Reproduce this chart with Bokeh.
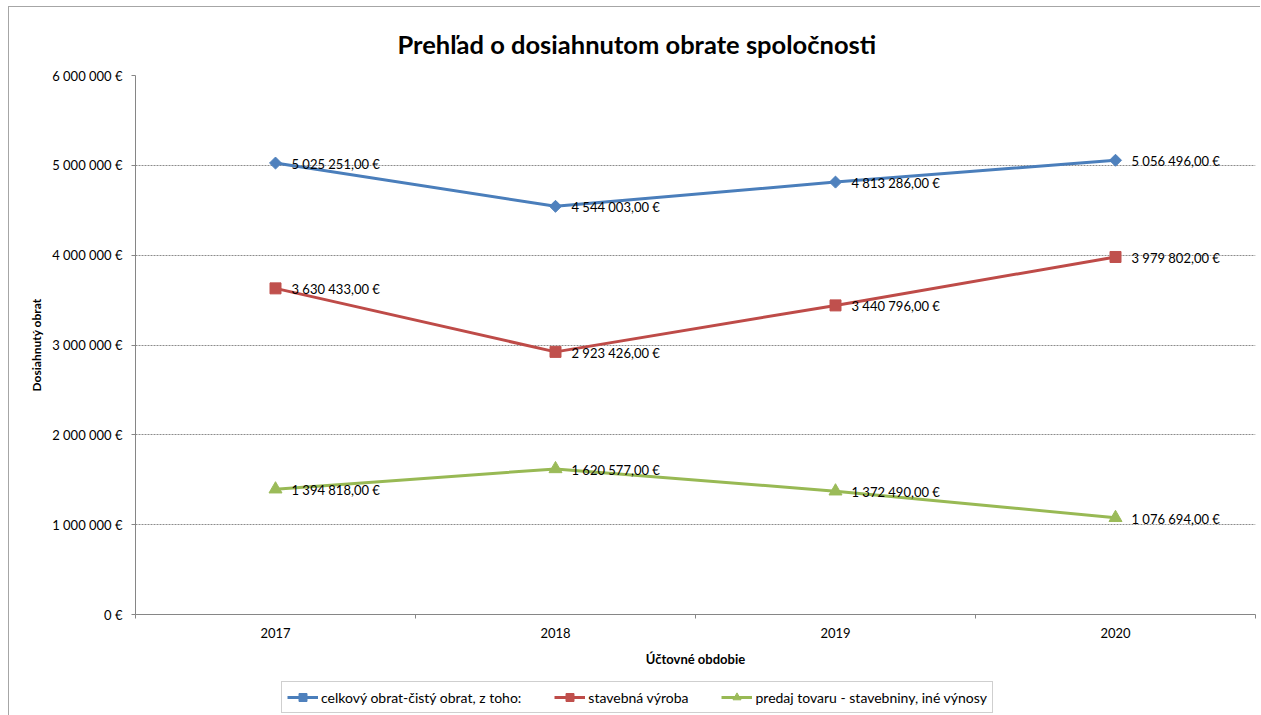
from bokeh.plotting import figure
from bokeh.layouts import column
from bokeh.models import FixedTicker, ColumnDataSource, Legend, LegendItem, LabelSet, Range1d
from bokeh.embed import file_html
from bokeh.resources import INLINE
from bokeh.core.properties import value

years = ["2017", "2018", "2019", "2020"]
celkovy = [5025251, 4544003, 4813286, 5056496]
stavebna = [3630433, 2923426, 3440796, 3979802]
predaj = [1394818, 1620577, 1372490, 1076694]
series_names = ["celkový obrat-čistý obrat, z toho:", "stavebná výroba",
                "predaj tovaru - stavebniny, iné výnosy"]
y_ticks = [0, 1000000, 2000000, 3000000, 4000000, 5000000, 6000000]
title_text = "Prehľad o dosiahnutom obrate spoločnosti"
x_label = "Účtovné obdobie"
y_label = "Dosiahnutý obrat"

FONT = "Lato"


def fmt_int(v):
    return f"{v:,}".replace(",", " ") + " €"


def fmt_val(v):
    return f"{v:,.2f}".replace(",", " ").replace(".", ",") + " €"


xs = list(range(1, len(years) + 1))

p = figure(width=1251, height=668, output_backend="svg", toolbar_location=None,
           x_range=Range1d(0.5, len(years) + 0.5), y_range=Range1d(0, 6000000),
           min_border_left=126, min_border_top=68, min_border_right=5, min_border_bottom=61)
p.outline_line_color = None
p.background_fill_color = "white"
p.border_fill_color = "white"

p.title.text = title_text
p.title.text_font = FONT
p.title.text_font_size = "25.5px"
p.title.text_font_style = "bold"
p.title.text_color = "black"
p.title.align = "left"
p.title.offset = 262
p.title.standoff = 34

# axes
xa = p.xaxis[0]
xa.ticker = FixedTicker(ticks=xs, minor_ticks=[x - 0.5 for x in xs] + [xs[-1] + 0.5])
xa.major_label_overrides = {x: y for x, y in zip(xs, years)}
xa.major_tick_out = 0
xa.major_tick_in = 0
xa.minor_tick_out = 4
xa.minor_tick_in = 0
xa.minor_tick_line_color = "#868686"
xa.axis_line_color = "#868686"
xa.major_label_text_font = FONT
xa.major_label_text_font_size = "13px"
xa.major_label_text_color = "black"
xa.major_label_standoff = 9
xa.axis_label = x_label
xa.axis_label_text_font = FONT
xa.axis_label_text_font_size = "13px"
xa.axis_label_text_font_style = "bold"
xa.axis_label_text_color = "black"
xa.axis_label_standoff = 10

ya = p.yaxis[0]
ya.ticker = FixedTicker(ticks=y_ticks, minor_ticks=[])
ya.major_label_overrides = {t: fmt_int(t) for t in y_ticks}
ya.major_tick_out = 4
ya.major_tick_in = 0
ya.major_tick_line_color = "#868686"
ya.axis_line_color = "#868686"
ya.major_label_text_font = FONT
ya.major_label_text_font_size = "13px"
ya.major_label_text_color = "black"
ya.major_label_standoff = 9
ya.axis_label = y_label
ya.axis_label_text_font = FONT
ya.axis_label_text_font_size = "12px"
ya.axis_label_text_font_style = "bold"
ya.axis_label_text_color = "black"
ya.axis_label_standoff = 5

p.xgrid.visible = False
p.ygrid.ticker = FixedTicker(ticks=y_ticks, minor_ticks=[])
p.ygrid.grid_line_color = "#8c8c8c"
p.ygrid.grid_line_dash = "2 1"
p.ygrid.grid_line_width = 1

series = [
    (celkovy, "#4A7EBB", "#4F81BD", "square", 8.5, 0.785398),
    (stavebna, "#BE4B48", "#C0504D", "square", 11, 0.0),
    (predaj, "#98B954", "#9BBB59", "triangle", 13, 0.0),
]

# strip below the chart that carries the legend; its renderers reuse the
# series data, which lies outside this strip's ranges, so only legend glyphs show
lp = figure(width=1251, height=40, output_backend="svg", toolbar_location=None,
            x_axis_location=None, y_axis_location=None,
            x_range=Range1d(0, 0.1), y_range=Range1d(0, 1),
            min_border_left=0, min_border_right=0, min_border_top=0, min_border_bottom=0)
lp.outline_line_color = None
lp.grid.visible = False
lp.background_fill_color = "white"
lp.border_fill_color = "white"

items = []
for (vals, lc, mc, marker, size, ang), name in zip(series, series_names):
    src = ColumnDataSource(dict(x=xs, y=vals, lab=[fmt_val(v) for v in vals]))
    p.line("x", "y", source=src, line_color=lc, line_width=3)
    p.scatter("x", "y", source=src, marker=marker, size=size, angle=ang,
              fill_color=mc, line_color=mc)
    lbl = LabelSet(x="x", y="y", text="lab", source=src, x_offset=16, y_offset=-1,
                   text_font=value(FONT), text_font_size="13px", text_color="black",
                   text_baseline="middle", text_align="left")
    p.add_layout(lbl)
    ln = lp.line("x", "y", source=src, line_color=lc, line_width=3)
    sc = lp.scatter("x", "y", source=src, marker=marker, size=size, angle=ang,
                    fill_color=mc, line_color=mc)
    items.append(LegendItem(label=name, renderers=[ln, sc]))

legend = Legend(items=items, orientation="horizontal", location=(146, 2))
legend.label_text_font = FONT
legend.label_text_font_size = "14px"
legend.label_text_color = "black"
legend.glyph_width = 31
legend.glyph_height = 20
legend.label_standoff = 3
legend.spacing = 33
legend.padding = 5
legend.margin = 0
legend.border_line_color = "#a0a0a0"
legend.border_line_width = 1
legend.background_fill_color = "white"
legend.background_fill_alpha = 1.0
lp.add_layout(legend)

layout = column(p, lp, spacing=0,
                styles={"margin-left": "8px", "margin-top": "6px",
                        "border-left": "1px solid #a6a6a6",
                        "border-top": "1px solid #a6a6a6"})

open("out.html", "w").write(file_html(layout, INLINE))
